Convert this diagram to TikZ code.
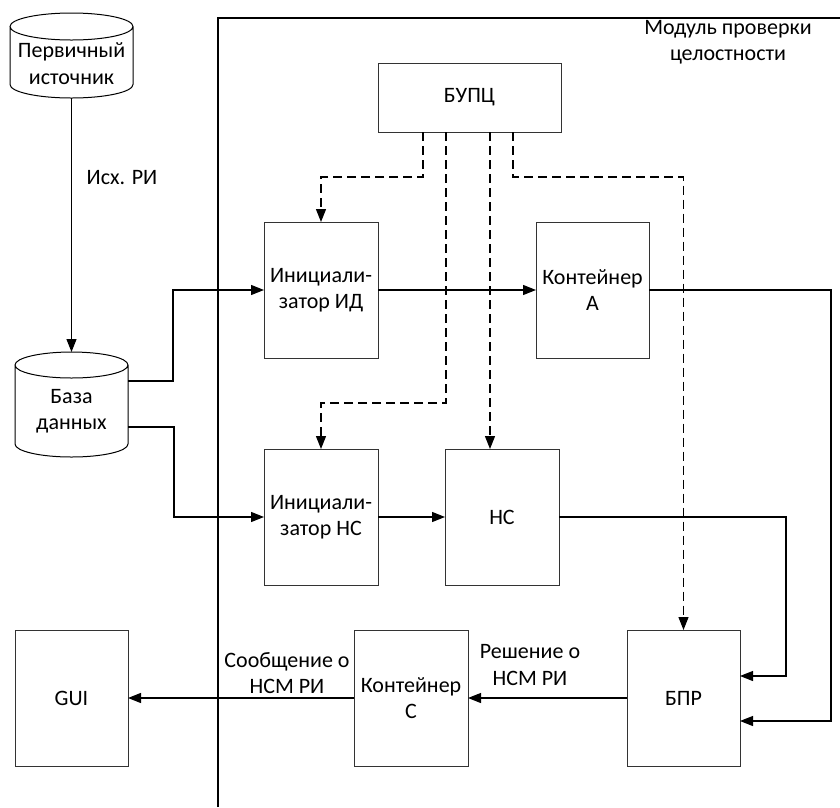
\documentclass[tikz,border=0pt]{standalone}
\usepackage{fontspec}
\setmainfont{Carlito}
\usetikzlibrary{arrows.meta,calc}

\tikzset{every picture/.style={x=1pt,y=1pt,line width=1.2pt}}
\tikzset{block/.style={draw=black!80, line width=1pt, minimum width=114pt, minimum height=136pt, inner sep=0pt, outer sep=0pt, align=center, font=\fontsize{22}{26.5}\selectfont}}
\tikzset{db box/.style={minimum width=#1, inner sep=0pt, outer sep=0pt}}
\tikzset{plain text/.style={align=center, inner sep=0pt, font=\fontsize{22}{26.5}\selectfont}}
\tikzset{flow/.style={-{Triangle[length=13pt,width=10pt]}}}
\tikzset{ctrl/.style={flow, dash pattern=on 9pt off 5pt}}
\tikzset{module line/.style={line width=2.4pt}}
\newcommand{\drawdb}[3]{\draw[line width=1pt] ([yshift=-#3pt]#1.north west) -- ([yshift=#3pt]#1.south west) arc[start angle=180,end angle=360,x radius=#2pt,y radius=#3pt] -- ([yshift=-#3pt]#1.north east) arc[start angle=0,end angle=180,x radius=#2pt,y radius=#3pt] arc[start angle=180,end angle=360,x radius=#2pt,y radius=#3pt];}

\begin{document}
\begin{tikzpicture}
    \useasboundingbox (0,0) rectangle (840,-807);
    \draw[module line] (218,-807) -- (218,-18) -- (840,-18);
    \node[plain text] (modtitle) at (728,-42) {Модуль проверки\\целостности};

    \node[db box=123pt, minimum height=85pt] (src) at (71.5,-55.5) {};
    \drawdb{src}{61.5}{13.5}
    \node[plain text] (srctext) at (71.5,-63.5) {Первичный\\источник};
    \node[db box=113pt, minimum height=105pt] (db) at (71.5,-404.5) {};
    \drawdb{db}{56.5}{13}
    \node[plain text] (dbtext) at (71.5,-411) {База\\данных};

    \node[block, minimum width=183pt, minimum height=69pt] (bupc) at (469.5,-97.5) {БУПЦ};
    \node[block] (initid) at (321,-290) {Инициали-\\затор ИД};
    \node[block, minimum width=113pt] (conta) at (592.5,-290) {Контейнер\\А};
    \node[block] (initns) at (321,-517) {Инициали-\\затор НС};
    \node[block] (ns) at (502,-517) {НС};
    \node[block, minimum width=113pt] (gui) at (71.5,-698) {GUI};
    \node[block] (contc) at (411,-698) {Контейнер\\С};
    \node[block, minimum width=113pt] (bpr) at (683.5,-698) {БПР};

    \draw[flow] (src.south) -- (db.north);
    \node[plain text] (srclabel) at (122,-178) {Исх. РИ};
    \draw[flow] ([yshift=23.5pt]db.east) -- ++(45,0) |- (initid.west);
    \draw[flow] ([yshift=-22.5pt]db.east) -- ++(46,0) |- (initns.west);
    \draw[flow] (initid.east) -- (conta.west);
    \draw[flow] (initns.east) -- (ns.west);
    \draw[flow] (ns.east) -- ++(227,0) |- ([yshift=22pt]bpr.east);
    \draw[flow] (conta.east) -- ++(182,0) |- ([yshift=-23pt]bpr.east);
    \draw[flow] (bpr.west) -- (contc.east);
    \node[plain text] (decision) at (530,-665) {Решение о\\НСМ РИ};
    \draw[flow] (contc.west) -- (gui.east);
    \node[plain text] (message) at (287,-673) {Сообщение о\\НСМ РИ};

    \draw[ctrl] ([xshift=-46.5pt]bupc.south) -- ++(0,-45) -| (initid.north);
    \draw[ctrl] ([xshift=-23.5pt]bupc.south) -- ++(0,-271) -| (initns.north);
    \draw[ctrl] ([xshift=20.5pt]bupc.south) -- ([xshift=-12pt]ns.north);
    \draw[ctrl] ([xshift=43.5pt]bupc.south) -- ++(0,-45) -| (bpr.north);
\end{tikzpicture}
\end{document}
